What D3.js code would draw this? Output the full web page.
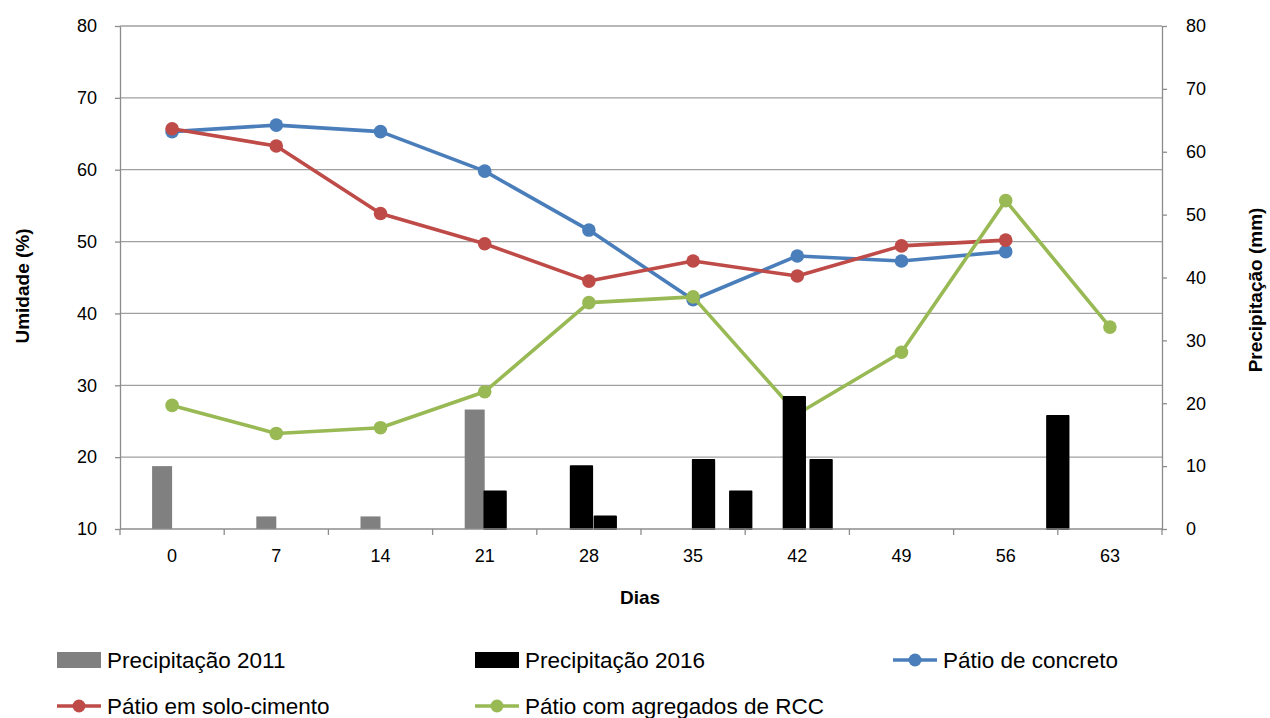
<!DOCTYPE html>
<html>
<head>
<meta charset="utf-8">
<script src="https://cdn.jsdelivr.net/npm/d3@7"></script>
<style>
  html, body { margin: 0; padding: 0; background: #fff; }
  svg { display: block; font-family: "Liberation Sans", Arial, sans-serif; }
</style>
</head>
<body>
<svg id="chart" width="1270" height="718"></svg>
<script>
// Days of measurement (category axis)
const dias = [0, 7, 14, 21, 28, 35, 42, 49, 56, 63];

// Moisture content (%) per yard type; null = no reading
const patioConcreto = [65.3, 66.2, 65.3, 59.8, 51.6, 41.9, 48.0, 47.3, 48.6, null];
const patioSoloCimento = [65.7, 63.3, 53.9, 49.7, 44.5, 47.3, 45.2, 49.4, 50.2, null];
const patioRCC = [27.2, 23.3, 24.1, 29.1, 41.5, 42.3, 26.0, 34.6, 55.7, 38.1];

// Rainfall 2011 (mm), measured on the category days
const chuva2011Dias = [0, 7, 14, 21];
const chuva2011 = [10, 2, 2, 19];

// Rainfall 2016 (mm), by day of occurrence
const chuva2016Dias = [21.7, 27.5, 29.1, 35.7, 38.2, 41.8, 43.6, 59.5];
const chuva2016 = [6, 10, 2, 11, 6, 21, 11, 18];

const umidadeTicks = [10, 20, 30, 40, 50, 60, 70, 80];
const chuvaTicks = [0, 10, 20, 30, 40, 50, 60, 70, 80];

const svg = d3.select("#chart");
const plotL = 120, plotR = 1162, plotT = 26, plotB = 529;

const x = d3.scaleBand().domain(dias).range([plotL, plotR]).padding(0);
const bw = x.bandwidth();
const cx = d => x(d) + bw / 2;
// continuous day scale aligned with the category centres
const xDay = d3.scaleLinear().domain([0, 63]).range([cx(0), cx(63)]);

const yL = d3.scaleLinear().domain([10, 80]).range([plotB, plotT]);
const yR = d3.scaleLinear().domain([0, 80]).range([plotB, plotT]);

const gridColor = "#a0a0a0";
const axisColor = "#8c8c8c";

// horizontal gridlines
svg.append("g").selectAll("line")
  .data(umidadeTicks.filter(t => t > 10))
  .join("line")
  .attr("x1", plotL).attr("x2", plotR)
  .attr("y1", d => yL(d)).attr("y2", d => yL(d))
  .attr("stroke", gridColor).attr("stroke-width", 1.3);

// moisture series
const series = [
  { name: "Pátio de concreto", values: patioConcreto, color: "#4a7ebb" },
  { name: "Pátio em solo-cimento", values: patioSoloCimento, color: "#be4b48" },
  { name: "Pátio com agregados de RCC", values: patioRCC, color: "#98b954" }
];

const line = d3.line()
  .defined(d => d.v != null)
  .x(d => cx(d.dia))
  .y(d => yL(d.v));

const gLines = svg.append("g");
series.forEach(s => {
  const pts = dias.map((dia, i) => ({ dia, v: s.values[i] }));
  gLines.append("path")
    .datum(pts)
    .attr("d", line)
    .attr("fill", "none")
    .attr("stroke", s.color)
    .attr("stroke-width", 3.6)
    .attr("stroke-linejoin", "round");
  gLines.append("g").selectAll("circle")
    .data(pts.filter(p => p.v != null))
    .join("circle")
    .attr("cx", p => cx(p.dia))
    .attr("cy", p => yL(p.v))
    .attr("r", 6.8)
    .attr("fill", s.color);
});

// rainfall bars (secondary axis)
const barW = 20;
svg.append("g").selectAll("rect")
  .data(chuva2011Dias.map((d, i) => ({ d, v: chuva2011[i] })))
  .join("rect")
  .attr("x", p => cx(p.d) - barW)
  .attr("width", barW)
  .attr("y", p => yR(p.v))
  .attr("height", p => yR(0) - yR(p.v))
  .attr("fill", "#808080");

const barW2 = 21.5;
svg.append("g").selectAll("rect")
  .data(chuva2016Dias.map((d, i) => ({ d, v: chuva2016[i] })))
  .join("rect")
  .attr("x", p => xDay(p.d) - barW2 / 2)
  .attr("width", barW2)
  .attr("y", p => yR(p.v))
  .attr("height", p => yR(0) - yR(p.v))
  .attr("fill", "#000")
  .attr("stroke", "#000")
  .attr("stroke-width", 1.8)
  .attr("stroke-linejoin", "round");

// axes
function styleAxis(g) {
  g.select(".domain").attr("stroke", axisColor).attr("stroke-width", 1.3);
  g.selectAll(".tick line").attr("stroke", axisColor).attr("stroke-width", 1.3);
  g.selectAll(".tick text").attr("fill", "#000")
    .style("font-size", "18px")
    .style("font-family", "'Liberation Sans', Arial, sans-serif");
}

svg.append("g")
  .attr("transform", `translate(${plotL},0)`)
  .call(d3.axisLeft(yL).tickValues(umidadeTicks).tickSize(5).tickPadding(18).tickSizeOuter(0))
  .call(styleAxis);

svg.append("g")
  .attr("transform", `translate(${plotR},0)`)
  .call(d3.axisRight(yR).tickValues(chuvaTicks).tickSize(5).tickPadding(19).tickSizeOuter(0))
  .call(styleAxis);

const gx = svg.append("g")
  .attr("transform", `translate(0,${plotB})`)
  .call(d3.axisBottom(x).tickSize(0).tickPadding(20).tickSizeOuter(0))
  .call(styleAxis);
gx.select(".domain").attr("d", `M${plotL},0H${plotR}`);

// category boundary ticks
svg.append("g").selectAll("line")
  .data(dias.map(d => x(d)).concat([plotR]))
  .join("line")
  .attr("x1", d => d).attr("x2", d => d)
  .attr("y1", plotB).attr("y2", plotB + 6)
  .attr("stroke", axisColor).attr("stroke-width", 1.3);

// axis titles
const titleStyle = sel => sel
  .attr("fill", "#000")
  .attr("font-weight", "bold")
  .style("font-size", "19px")
  .attr("text-anchor", "middle");

svg.append("text")
  .attr("transform", `translate(29,286) rotate(-90)`)
  .call(titleStyle)
  .text("Umidade (%)");

svg.append("text")
  .attr("transform", `translate(1262,290) rotate(-90)`)
  .call(titleStyle)
  .text("Precipitação (mm)");

svg.append("text")
  .attr("x", (plotL + plotR) / 2 - 1)
  .attr("y", 604)
  .call(titleStyle)
  .text("Dias");

// legend
const legendItems = [
  { name: "Precipitação 2011", type: "bar", color: "#808080", x: 57, y: 660 },
  { name: "Precipitação 2016", type: "bar", color: "#000", x: 475, y: 660 },
  { name: series[0].name, type: "line", color: series[0].color, x: 893, y: 660 },
  { name: series[1].name, type: "line", color: series[1].color, x: 57, y: 706 },
  { name: series[2].name, type: "line", color: series[2].color, x: 475, y: 706 }
];

const lg = svg.append("g").selectAll("g")
  .data(legendItems)
  .join("g")
  .attr("transform", d => `translate(${d.x},${d.y})`);

lg.filter(d => d.type === "bar").append("rect")
  .attr("x", 0).attr("y", -8).attr("width", 44).attr("height", 16)
  .attr("fill", d => d.color);

lg.filter(d => d.type === "line").append("line")
  .attr("x1", 0).attr("x2", 44).attr("y1", 0).attr("y2", 0)
  .attr("stroke", d => d.color).attr("stroke-width", 3.6);

lg.filter(d => d.type === "line").append("circle")
  .attr("cx", 22).attr("cy", 0).attr("r", 6.5)
  .attr("fill", d => d.color);

lg.append("text")
  .attr("x", 50)
  .attr("y", 0)
  .attr("dy", "0.36em")
  .attr("fill", "#000")
  .style("font-size", "22.5px")
  .text(d => d.name);
</script>
</body>
</html>
